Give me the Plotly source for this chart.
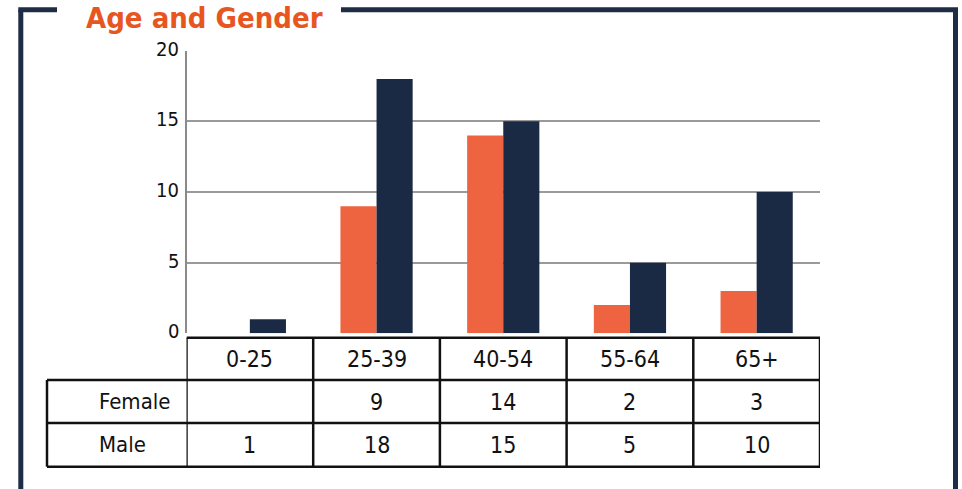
import plotly.graph_objects as go

# Respondents by age band and gender
age_groups = ["0-25", "25-39", "40-54", "55-64", "65+"]
female = [None, 9, 14, 2, 3]
male = [1, 18, 15, 5, 10]
y_ticks = [0, 5, 10, 15, 20]

W, H = 962, 489
ORANGE = "#ee6440"
NAVY = "#1b2a44"
FRAME = "#1c2d45"
FONT = "DejaVu Sans Condensed, Liberation Sans, sans-serif"


def px(x):
    return x / W


def py(y):
    return 1 - y / H


plot_left, plot_right = 186.5, 820
plot_top, plot_bottom = 50.7, 333.3

fig = go.Figure()
fig.add_trace(go.Bar(x=age_groups, y=female, name="Female", marker=dict(color=ORANGE, line=dict(width=0))))
fig.add_trace(go.Bar(x=age_groups, y=male, name="Male", marker=dict(color=NAVY, line=dict(width=0))))

shapes = []
annotations = []

# y-axis tick labels, set slightly above their grid lines
for t in y_ticks:
    annotations.append(dict(x=px(181), y=t, xref="paper", yref="y", text=str(t),
                            showarrow=False, xanchor="right", yanchor="middle", yshift=2,
                            font=dict(family=FONT, size=20, color="#111111")))

# data table under the chart
LINE = dict(color="#111111", width=2.5)
n = len(age_groups)
header_top, row1_top, row2_top, table_bottom = 337.7, 380, 423, 466.7
table_left = 47

shapes.append(dict(type="line", xref="x", yref="paper", x0=-0.5, x1=n - 0.5,
                   y0=py(header_top), y1=py(header_top), line=LINE))
for yy in (row1_top, row2_top, table_bottom):
    shapes.append(dict(type="line", xref="paper", yref="paper", x0=px(table_left), x1=px(plot_right),
                       y0=py(yy), y1=py(yy), line=LINE))
shapes.append(dict(type="line", xref="paper", yref="paper", x0=px(table_left), x1=px(table_left),
                   y0=py(row1_top), y1=py(table_bottom), line=LINE))
for i in range(n + 1):
    shapes.append(dict(type="line", xref="x", yref="paper", x0=i - 0.5, x1=i - 0.5,
                       y0=py(header_top), y1=py(table_bottom), line=LINE))

cell_font = dict(family=FONT, size=23, color="#111111")
label_font = dict(family=FONT, size=22, color="#111111")
header_mid = (header_top + row1_top) / 2
row1_mid = (row1_top + row2_top) / 2
row2_mid = (row2_top + table_bottom) / 2
for i, g in enumerate(age_groups):
    annotations.append(dict(x=g, y=py(header_mid), xref="x", yref="paper", text=g,
                            showarrow=False, xanchor="center", yanchor="middle", font=cell_font))
    f = female[i]
    annotations.append(dict(x=g, y=py(row1_mid), xref="x", yref="paper",
                            text="" if f is None else str(f), showarrow=False,
                            xanchor="center", yanchor="middle", font=cell_font))
    annotations.append(dict(x=g, y=py(row2_mid), xref="x", yref="paper", text=str(male[i]),
                            showarrow=False, xanchor="center", yanchor="middle", font=cell_font))
for label, mid in (("Female", row1_mid), ("Male", row2_mid)):
    annotations.append(dict(x=px(97), y=py(mid), xref="paper", yref="paper", text=label,
                            showarrow=False, xanchor="left", yanchor="middle", font=label_font))

# outer frame with a gap for the heading
FR = dict(color=FRAME, width=5)
shapes += [
    dict(type="line", xref="paper", yref="paper", x0=px(20.8), x1=px(20.8), y0=py(9.8), y1=-0.1, line=FR),
    dict(type="line", xref="paper", yref="paper", x0=px(955.5), x1=px(955.5), y0=py(9.8), y1=-0.1, line=FR),
    dict(type="line", xref="paper", yref="paper", x0=px(18.3), x1=px(57), y0=py(9.8), y1=py(9.8), line=FR),
    dict(type="line", xref="paper", yref="paper", x0=px(341), x1=px(958), y0=py(9.8), y1=py(9.8), line=FR),
]
annotations.append(dict(x=px(85), y=1, xref="paper", yref="paper", text="<b>Age and Gender</b>",
                        showarrow=False, xanchor="left", yanchor="top", borderpad=0,
                        font=dict(family=FONT, size=29, color="#e8561f")))

fig.update_layout(
    width=W, height=H,
    margin=dict(l=0, r=0, t=0, b=0),
    paper_bgcolor="white", plot_bgcolor="white",
    barmode="group", bargap=0.43, bargroupgap=0,
    showlegend=False,
    xaxis=dict(domain=[px(plot_left), px(plot_right)], showticklabels=False, showgrid=False,
               zeroline=False, showline=False, ticks="", range=[-0.5, n - 0.5]),
    yaxis=dict(domain=[py(plot_bottom), py(plot_top)], range=[0, 20], tickvals=y_ticks,
               showticklabels=False, showgrid=True, gridcolor="#9a9a9a", gridwidth=1.5,
               zeroline=False, showline=True, linecolor="#8a8a8a", linewidth=2, ticks=""),
    shapes=shapes,
    annotations=annotations,
)

fig.write_html("out.html")
